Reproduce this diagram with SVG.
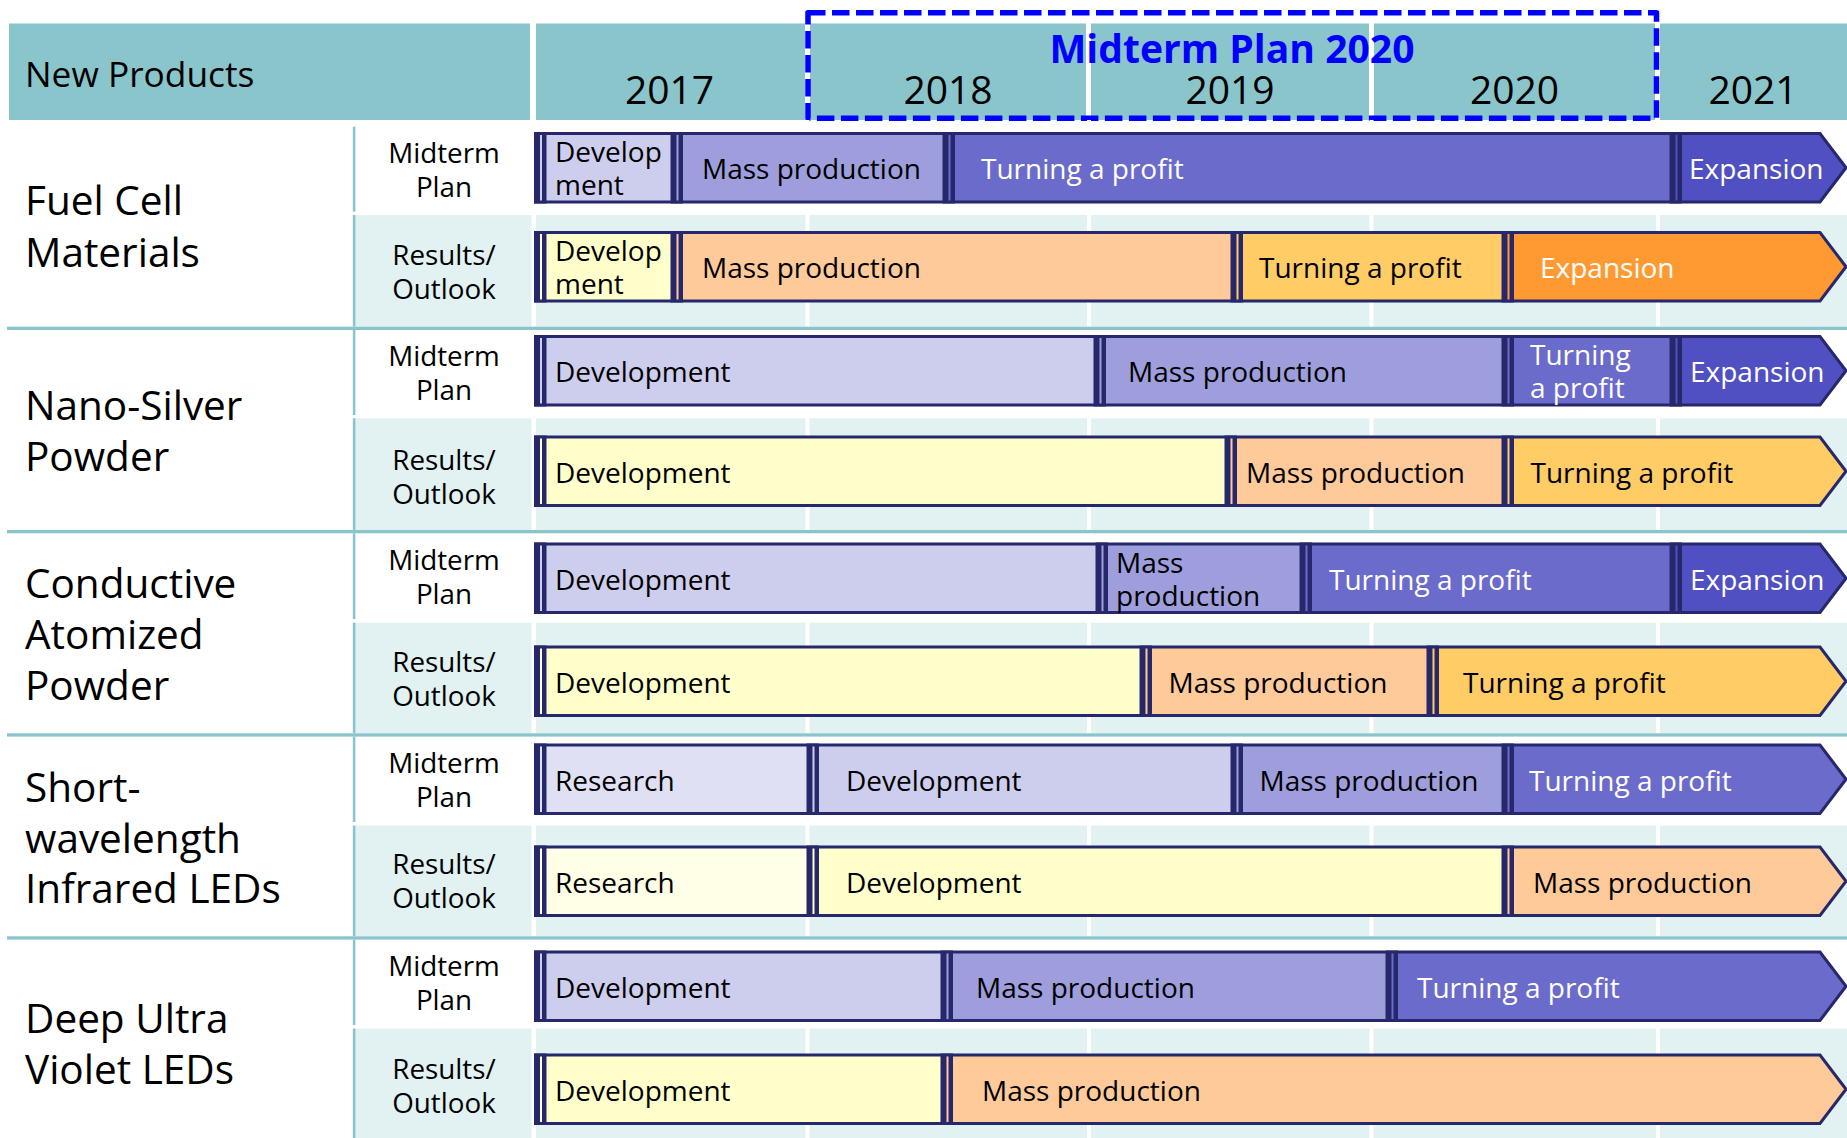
<svg xmlns="http://www.w3.org/2000/svg" width="1847" height="1138" viewBox="0 0 1847 1138">
  <style>
    text { font-family: "Open Sans", "Noto Sans", "DejaVu Sans", sans-serif; fill: #000; }
    .hdr { fill: #8AC5CC; }
    .rbg { fill: #E2F1F2; }
    .teal { fill: #8AC5CC; }
    .grid { fill: #FFFFFF; }
    .yr { font-size: 39px; text-anchor: middle; }
    .hd { font-size: 35.3px; }
    .pl { font-size: 40.5px; }
    .rl { font-size: 27.8px; text-anchor: middle; }
    .bt { font-size: 28px; }
    .bw { font-size: 28px; fill: #FFFFFF; }
    .title { font-size: 40px; font-weight: 700; fill: #0000FF; }
    .outline { fill: none; stroke: #27286B; stroke-width: 3; stroke-linejoin: miter; }
    .sep { fill: #27286B; }
    .plan { fill: none; stroke: #0000FF; stroke-width: 5.5; stroke-dasharray: 17.5 6.5; stroke-linejoin: round; }
    .m1 { fill: #E0E0F5; } .m2 { fill: #CDCDEE; } .m3 { fill: #9E9EDD; } .m4 { fill: #6B6BCB; } .m5 { fill: #5050C2; }
    .r1 { fill: #FFFFE8; } .r2 { fill: #FFFFCC; } .r3 { fill: #FFCA99; } .r4 { fill: #FFCC66; } .r5 { fill: #FF9A33; }
  </style>

  <!-- header row -->
  <g id="header">
    <rect class="hdr" x="9" y="23.5" width="521" height="96.5"/>
    <rect class="hdr" x="536" y="23.5" width="269" height="96.5"/>
    <rect class="hdr" x="810" y="23.5" width="276" height="96.5"/>
    <rect class="hdr" x="1091" y="23.5" width="278" height="96.5"/>
    <rect class="hdr" x="1374" y="23.5" width="281" height="96.5"/>
    <rect class="hdr" x="1660" y="23.5" width="187" height="96.5"/>
    <text class="hd" x="25" y="87">New Products</text>
    <text class="yr" x="669.5" y="104">2017</text>
    <text class="yr" x="948" y="104">2018</text>
    <text class="yr" x="1230" y="104">2019</text>
    <text class="yr" x="1514.5" y="104">2020</text>
    <text class="yr" x="1753" y="104">2021</text>
  </g>

  <!-- midterm plan period marker -->
  <g id="midterm-plan-2020">
    <rect class="plan" x="808" y="12.8" width="848.5" height="105.4"/>
    <text class="title" x="1049.5" y="63" textLength="365" lengthAdjust="spacingAndGlyphs">Midterm Plan 2020</text>
  </g>

  <!-- row backgrounds, grid and dividers -->
  <g id="grid">
    <rect class="rbg" x="354" y="215" width="1493" height="111.7"/>
    <rect class="rbg" x="354" y="418.3" width="1493" height="111.7"/>
    <rect class="rbg" x="354" y="622.7" width="1493" height="110.6"/>
    <rect class="rbg" x="354" y="825.5" width="1493" height="110.8"/>
    <rect class="rbg" x="354" y="1028.5" width="1493" height="109.5"/>

    <rect class="grid" x="531.5" y="120" width="4.5" height="1018"/>
    <rect class="grid" x="805.5" y="120" width="4" height="1018"/>
    <rect class="grid" x="1087" y="120" width="4" height="1018"/>
    <rect class="grid" x="1369.5" y="120" width="4" height="1018"/>
    <rect class="grid" x="1656" y="120" width="4" height="1018"/>

    <rect class="teal" x="7" y="326.7" width="1840" height="3.3"/>
    <rect class="teal" x="7" y="530" width="1840" height="3.3"/>
    <rect class="teal" x="7" y="733.3" width="1840" height="3.3"/>
    <rect class="teal" x="7" y="936.3" width="1840" height="3.3"/>

    <rect class="teal" x="352.8" y="126.7" width="2.6" height="85"/>
    <rect class="teal" x="352.8" y="215" width="2.6" height="111.7"/>
    <rect class="teal" x="352.8" y="330" width="2.6" height="85"/>
    <rect class="teal" x="352.8" y="418.3" width="2.6" height="111.7"/>
    <rect class="teal" x="352.8" y="533.3" width="2.6" height="85.7"/>
    <rect class="teal" x="352.8" y="622.7" width="2.6" height="110.6"/>
    <rect class="teal" x="352.8" y="736.6" width="2.6" height="85.4"/>
    <rect class="teal" x="352.8" y="825.5" width="2.6" height="110.8"/>
    <rect class="teal" x="352.8" y="939.6" width="2.6" height="85.4"/>
    <rect class="teal" x="352.8" y="1028.5" width="2.6" height="109.5"/>
  </g>

  <!-- Fuel Cell Materials -->
  <g id="fuel-cell-materials">
    <text class="pl" x="25" y="215">Fuel Cell</text>
    <text class="pl" x="25" y="267">Materials</text>
    <text class="rl" x="444" y="162.5">Midterm</text>
    <text class="rl" x="444" y="196.5">Plan</text>
    <text class="rl" x="444" y="264.5">Results/</text>
    <text class="rl" x="444" y="299">Outlook</text>
  </g>
  <g id="fuel-cell-plan">
    <rect class="m2" x="540.5" y="133.5" width="136.5" height="68.5"/>
    <rect class="m3" x="677" y="133.5" width="272" height="68.5"/>
    <rect class="m4" x="949" y="133.5" width="727" height="68.5"/>
    <polygon class="m5" points="1676,133.5 1820,133.5 1846,167.75 1820,202 1676,202"/>
    <polygon class="outline" points="535.5,133.5 1820,133.5 1846,167.75 1820,202 535.5,202"/>
    <rect class="sep" x="534" y="132" width="12.5" height="71.5"/><rect class="m2" x="540" y="135" width="2" height="65.5"/>
    <rect class="sep" x="670.5" y="132" width="12.5" height="71.5"/><rect class="m3" x="676.5" y="135" width="2" height="65.5"/>
    <rect class="sep" x="942.5" y="132" width="12.5" height="71.5"/><rect class="m4" x="948.5" y="135" width="2" height="65.5"/>
    <rect class="sep" x="1669.5" y="132" width="12.5" height="71.5"/><rect class="m5" x="1675.5" y="135" width="2" height="65.5"/>
    <text class="bt" x="555" y="162">Develop</text>
    <text class="bt" x="555" y="195">ment</text>
    <text class="bt" x="702" y="179">Mass production</text>
    <text class="bw" x="981" y="179">Turning a profit</text>
    <text class="bw" x="1689" y="179">Expansion</text>
  </g>
  <g id="fuel-cell-results">
    <rect class="r2" x="540.5" y="232.5" width="136.5" height="68.5"/>
    <rect class="r3" x="677" y="232.5" width="560" height="68.5"/>
    <rect class="r4" x="1237" y="232.5" width="271" height="68.5"/>
    <polygon class="r5" points="1508,232.5 1820,232.5 1846,266.75 1820,301 1508,301"/>
    <polygon class="outline" points="535.5,232.5 1820,232.5 1846,266.75 1820,301 535.5,301"/>
    <rect class="sep" x="534" y="231" width="12.5" height="71.5"/><rect class="r2" x="540" y="234" width="2" height="65.5"/>
    <rect class="sep" x="670.5" y="231" width="12.5" height="71.5"/><rect class="r3" x="676.5" y="234" width="2" height="65.5"/>
    <rect class="sep" x="1230.5" y="231" width="12.5" height="71.5"/><rect class="r4" x="1236.5" y="234" width="2" height="65.5"/>
    <rect class="sep" x="1501.5" y="231" width="12.5" height="71.5"/><rect class="r5" x="1507.5" y="234" width="2" height="65.5"/>
    <text class="bt" x="555" y="261">Develop</text>
    <text class="bt" x="555" y="294">ment</text>
    <text class="bt" x="702" y="278">Mass production</text>
    <text class="bt" x="1259" y="278">Turning a profit</text>
    <text class="bw" x="1540" y="278">Expansion</text>
  </g>

  <!-- Nano-Silver Powder -->
  <g id="nano-silver-powder">
    <text class="pl" x="25" y="420">Nano-Silver</text>
    <text class="pl" x="25" y="471">Powder</text>
    <text class="rl" x="444" y="366">Midterm</text>
    <text class="rl" x="444" y="400">Plan</text>
    <text class="rl" x="444" y="470">Results/</text>
    <text class="rl" x="444" y="504">Outlook</text>
  </g>
  <g id="nano-silver-plan">
    <rect class="m2" x="540.5" y="336.5" width="559.5" height="68.5"/>
    <rect class="m3" x="1100" y="336.5" width="408" height="68.5"/>
    <rect class="m4" x="1508" y="336.5" width="168" height="68.5"/>
    <polygon class="m5" points="1676,336.5 1820,336.5 1846,370.75 1820,405 1676,405"/>
    <polygon class="outline" points="535.5,336.5 1820,336.5 1846,370.75 1820,405 535.5,405"/>
    <rect class="sep" x="534" y="335" width="12.5" height="71.5"/><rect class="m2" x="540" y="338" width="2" height="65.5"/>
    <rect class="sep" x="1093.5" y="335" width="12.5" height="71.5"/><rect class="m3" x="1099.5" y="338" width="2" height="65.5"/>
    <rect class="sep" x="1501.5" y="335" width="12.5" height="71.5"/><rect class="m4" x="1507.5" y="338" width="2" height="65.5"/>
    <rect class="sep" x="1669.5" y="335" width="12.5" height="71.5"/><rect class="m5" x="1675.5" y="338" width="2" height="65.5"/>
    <text class="bt" x="555" y="382">Development</text>
    <text class="bt" x="1128" y="382">Mass production</text>
    <text class="bw" x="1530" y="365">Turning</text>
    <text class="bw" x="1530" y="398">a profit</text>
    <text class="bw" x="1690" y="382">Expansion</text>
  </g>
  <g id="nano-silver-results">
    <rect class="r2" x="540.5" y="437" width="690.5" height="68.5"/>
    <rect class="r3" x="1231" y="437" width="277" height="68.5"/>
    <polygon class="r4" points="1508,437 1820,437 1846,471.25 1820,505.5 1508,505.5"/>
    <polygon class="outline" points="535.5,437 1820,437 1846,471.25 1820,505.5 535.5,505.5"/>
    <rect class="sep" x="534" y="435.5" width="12.5" height="71.5"/><rect class="r2" x="540" y="438.5" width="2" height="65.5"/>
    <rect class="sep" x="1224.5" y="435.5" width="12.5" height="71.5"/><rect class="r3" x="1230.5" y="438.5" width="2" height="65.5"/>
    <rect class="sep" x="1501.5" y="435.5" width="12.5" height="71.5"/><rect class="r4" x="1507.5" y="438.5" width="2" height="65.5"/>
    <text class="bt" x="555" y="482.5">Development</text>
    <text class="bt" x="1246" y="482.5">Mass production</text>
    <text class="bt" x="1530.5" y="482.5">Turning a profit</text>
  </g>

  <!-- Conductive Atomized Powder -->
  <g id="conductive-atomized-powder">
    <text class="pl" x="25" y="598">Conductive</text>
    <text class="pl" x="25" y="649">Atomized</text>
    <text class="pl" x="25" y="700">Powder</text>
    <text class="rl" x="444" y="569.5">Midterm</text>
    <text class="rl" x="444" y="604">Plan</text>
    <text class="rl" x="444" y="672">Results/</text>
    <text class="rl" x="444" y="706">Outlook</text>
  </g>
  <g id="conductive-plan">
    <rect class="m2" x="540.5" y="544" width="561.5" height="68.5"/>
    <rect class="m3" x="1102" y="544" width="204" height="68.5"/>
    <rect class="m4" x="1306" y="544" width="370" height="68.5"/>
    <polygon class="m5" points="1676,544 1820,544 1846,578.25 1820,612.5 1676,612.5"/>
    <polygon class="outline" points="535.5,544 1820,544 1846,578.25 1820,612.5 535.5,612.5"/>
    <rect class="sep" x="534" y="542.5" width="12.5" height="71.5"/><rect class="m2" x="540" y="545.5" width="2" height="65.5"/>
    <rect class="sep" x="1095.5" y="542.5" width="12.5" height="71.5"/><rect class="m3" x="1101.5" y="545.5" width="2" height="65.5"/>
    <rect class="sep" x="1299.5" y="542.5" width="12.5" height="71.5"/><rect class="m4" x="1305.5" y="545.5" width="2" height="65.5"/>
    <rect class="sep" x="1669.5" y="542.5" width="12.5" height="71.5"/><rect class="m5" x="1675.5" y="545.5" width="2" height="65.5"/>
    <text class="bt" x="555" y="589.5">Development</text>
    <text class="bt" x="1116" y="572.5">Mass</text>
    <text class="bt" x="1116" y="605.5">production</text>
    <text class="bw" x="1329" y="589.5">Turning a profit</text>
    <text class="bw" x="1690" y="589.5">Expansion</text>
  </g>
  <g id="conductive-results">
    <rect class="r2" x="540.5" y="647" width="605.5" height="68.5"/>
    <rect class="r3" x="1146" y="647" width="287" height="68.5"/>
    <polygon class="r4" points="1433,647 1820,647 1846,681.25 1820,715.5 1433,715.5"/>
    <polygon class="outline" points="535.5,647 1820,647 1846,681.25 1820,715.5 535.5,715.5"/>
    <rect class="sep" x="534" y="645.5" width="12.5" height="71.5"/><rect class="r2" x="540" y="648.5" width="2" height="65.5"/>
    <rect class="sep" x="1139.5" y="645.5" width="12.5" height="71.5"/><rect class="r3" x="1145.5" y="648.5" width="2" height="65.5"/>
    <rect class="sep" x="1426.5" y="645.5" width="12.5" height="71.5"/><rect class="r4" x="1432.5" y="648.5" width="2" height="65.5"/>
    <text class="bt" x="555" y="692.5">Development</text>
    <text class="bt" x="1168.5" y="692.5">Mass production</text>
    <text class="bt" x="1463" y="692.5">Turning a profit</text>
  </g>

  <!-- Short-wavelength Infrared LEDs -->
  <g id="swir-leds">
    <text class="pl" x="25" y="802">Short-</text>
    <text class="pl" x="25" y="853">wavelength</text>
    <text class="pl" x="25" y="903">Infrared LEDs</text>
    <text class="rl" x="444" y="773">Midterm</text>
    <text class="rl" x="444" y="807">Plan</text>
    <text class="rl" x="444" y="874">Results/</text>
    <text class="rl" x="444" y="908">Outlook</text>
  </g>
  <g id="swir-plan">
    <rect class="m1" x="540.5" y="745" width="272.5" height="68.5"/>
    <rect class="m2" x="813" y="745" width="424" height="68.5"/>
    <rect class="m3" x="1237" y="745" width="271" height="68.5"/>
    <polygon class="m4" points="1508,745 1820,745 1846,779.25 1820,813.5 1508,813.5"/>
    <polygon class="outline" points="535.5,745 1820,745 1846,779.25 1820,813.5 535.5,813.5"/>
    <rect class="sep" x="534" y="743.5" width="12.5" height="71.5"/><rect class="m1" x="540" y="746.5" width="2" height="65.5"/>
    <rect class="sep" x="806.5" y="743.5" width="12.5" height="71.5"/><rect class="m2" x="812.5" y="746.5" width="2" height="65.5"/>
    <rect class="sep" x="1230.5" y="743.5" width="12.5" height="71.5"/><rect class="m3" x="1236.5" y="746.5" width="2" height="65.5"/>
    <rect class="sep" x="1501.5" y="743.5" width="12.5" height="71.5"/><rect class="m4" x="1507.5" y="746.5" width="2" height="65.5"/>
    <text class="bt" x="555" y="790.5">Research</text>
    <text class="bt" x="846" y="790.5">Development</text>
    <text class="bt" x="1259.5" y="790.5">Mass production</text>
    <text class="bw" x="1529" y="790.5">Turning a profit</text>
  </g>
  <g id="swir-results">
    <rect class="r1" x="540.5" y="847" width="272.5" height="68.5"/>
    <rect class="r2" x="813" y="847" width="695" height="68.5"/>
    <polygon class="r3" points="1508,847 1820,847 1846,881.25 1820,915.5 1508,915.5"/>
    <polygon class="outline" points="535.5,847 1820,847 1846,881.25 1820,915.5 535.5,915.5"/>
    <rect class="sep" x="534" y="845.5" width="12.5" height="71.5"/><rect class="r1" x="540" y="848.5" width="2" height="65.5"/>
    <rect class="sep" x="806.5" y="845.5" width="12.5" height="71.5"/><rect class="r2" x="812.5" y="848.5" width="2" height="65.5"/>
    <rect class="sep" x="1501.5" y="845.5" width="12.5" height="71.5"/><rect class="r3" x="1507.5" y="848.5" width="2" height="65.5"/>
    <text class="bt" x="555" y="892.5">Research</text>
    <text class="bt" x="846" y="892.5">Development</text>
    <text class="bt" x="1533" y="892.5">Mass production</text>
  </g>

  <!-- Deep Ultra Violet LEDs -->
  <g id="duv-leds">
    <text class="pl" x="25" y="1032.5">Deep Ultra</text>
    <text class="pl" x="25" y="1083.5">Violet LEDs</text>
    <text class="rl" x="444" y="976">Midterm</text>
    <text class="rl" x="444" y="1010">Plan</text>
    <text class="rl" x="444" y="1079">Results/</text>
    <text class="rl" x="444" y="1113">Outlook</text>
  </g>
  <g id="duv-plan">
    <rect class="m2" x="540.5" y="952" width="406.5" height="68.5"/>
    <rect class="m3" x="947" y="952" width="445" height="68.5"/>
    <polygon class="m4" points="1392,952 1820,952 1846,986.25 1820,1020.5 1392,1020.5"/>
    <polygon class="outline" points="535.5,952 1820,952 1846,986.25 1820,1020.5 535.5,1020.5"/>
    <rect class="sep" x="534" y="950.5" width="12.5" height="71.5"/><rect class="m2" x="540" y="953.5" width="2" height="65.5"/>
    <rect class="sep" x="940.5" y="950.5" width="12.5" height="71.5"/><rect class="m3" x="946.5" y="953.5" width="2" height="65.5"/>
    <rect class="sep" x="1385.5" y="950.5" width="12.5" height="71.5"/><rect class="m4" x="1391.5" y="953.5" width="2" height="65.5"/>
    <text class="bt" x="555" y="997.5">Development</text>
    <text class="bt" x="976" y="997.5">Mass production</text>
    <text class="bw" x="1417" y="997.5">Turning a profit</text>
  </g>
  <g id="duv-results">
    <rect class="r2" x="540.5" y="1055" width="406.5" height="68.5"/>
    <polygon class="r3" points="947,1055 1820,1055 1846,1089.25 1820,1123.5 947,1123.5"/>
    <polygon class="outline" points="535.5,1055 1820,1055 1846,1089.25 1820,1123.5 535.5,1123.5"/>
    <rect class="sep" x="534" y="1053.5" width="12.5" height="71.5"/><rect class="r2" x="540" y="1056.5" width="2" height="65.5"/>
    <rect class="sep" x="940.5" y="1053.5" width="12.5" height="71.5"/><rect class="r3" x="946.5" y="1056.5" width="2" height="65.5"/>
    <text class="bt" x="555" y="1100.5">Development</text>
    <text class="bt" x="982" y="1100.5">Mass production</text>
  </g>
</svg>
